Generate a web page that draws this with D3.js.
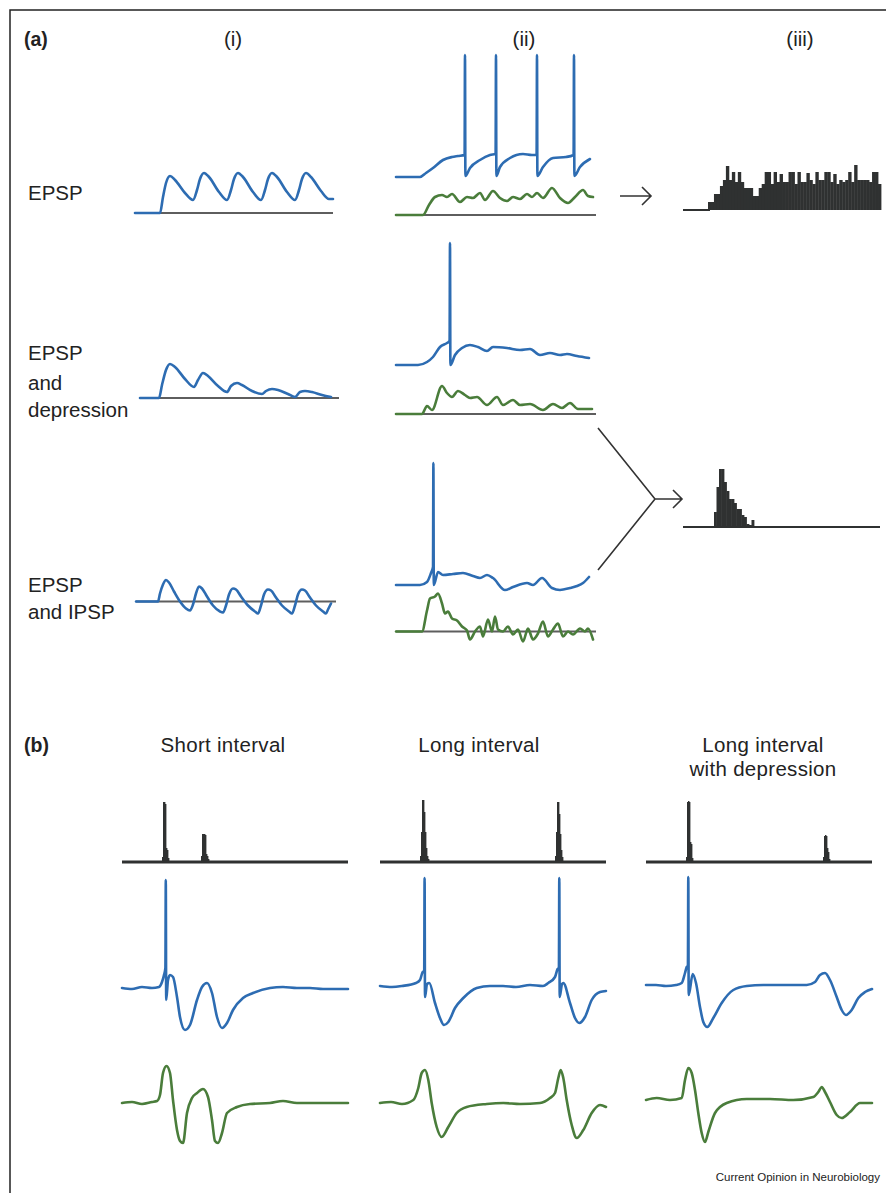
<!DOCTYPE html>
<html>
<head>
<meta charset="utf-8">
<script src="https://cdn.jsdelivr.net/npm/d3@7"></script>
<style>
  body { margin: 0; background: #fff; }
  text { font-family: "Liberation Sans", Arial, sans-serif; fill: #222; }
</style>
</head>
<body>
<div id="fig"></div>
<script>
// ---- traces, [time, amplitude] (amplitude up = positive) ----
// (a)(i) summed PSPs
const epspSum = [[0,0],[25,0],[28,16],[31,30],[35,37],[40,33],[50,20],[58,13],[62,23],[65,34],[69,40],[74,36],[84,21],[92,13],[96,23],[99,34],[103,40],[108,36],[118,21],[126,13],[130,23],[133,34],[137,40],[142,36],[152,21],[160,13],[164,23],[167,34],[171,40],[176,36],[186,22],[194,14],[198,14]];
const depressionSum = [[0,0],[19,0],[22,13],[26,28],[30,34],[35,31],[45,19],[54,11],[58,18],[63,25],[68,22],[78,12],[87,6],[91,12],[97,15],[102,13],[112,7],[122,4],[126,7],[132,9],[138,8],[148,4],[155,1],[160,6],[165,7],[172,6],[182,3],[191,1]];
const ipspSum = [[0,0],[22,0],[24,8],[27,17],[30,21.5],[33,19],[38,10],[44,0],[50,-7],[54,-9],[57,-3],[60,8],[63,15],[66,13],[71,5],[77,-4],[84,-10],[87,-11],[90,-4],[93,7],[97,13],[100,12],[105,5],[112,-4],[119,-10],[122,-12],[125,-4],[128,7],[132,12],[135,11],[140,4],[146,-4],[153,-10],[156,-12],[159,-4],[162,7],[166,12],[169,11],[174,4],[180,-4],[187,-10],[190,-12],[192,-8],[195,-2]];

// (a)(ii) membrane potential (blue) and synaptic input (green)
const epspVm = [[0,0],[24,0],[30,4],[37,9],[47,17],[56,20],[62,21],[68.6,22],[69,122],[69.4,1],[74,9],[84,17],[94,22],[99.6,23],[100,122],[100.4,1],[104,10],[114,19],[127,23],[136,22],[140.6,22],[141,122],[141.4,1],[147,10],[157,19],[170,20],[177.6,22],[178,122],[178.4,1],[184,10],[194,18]];
const epspIn = [[0,0],[27,0],[33,10],[39,18],[46,20],[51,18],[56,21],[64,13],[71,18],[77,17],[84,22],[89,15],[97,24],[104,17],[111,14],[117,18],[124,16],[131,21],[136,18],[141,22],[147,17],[156,27],[164,17],[172,12],[179,18],[187,25],[192,19],[197,18]];
const depressionVm = [[0,0],[22,0],[31,3],[37,8],[44,18],[51,22],[53.6,24],[54,122],[54.4,0],[59,10],[66,17],[74,20],[82,18],[91,14],[97,18],[111,17],[124,15],[134,16],[144,10],[154,12],[164,10],[171,11],[181,9],[193,7]];
const depressionIn = [[0,0],[26,0],[31,8],[36,4],[46,28],[51,21],[56,17],[62,23],[69,19],[74,16],[81,17],[91,9],[101,17],[107,9],[117,14],[124,9],[134,10],[147,4],[157,10],[166,6],[174,11],[182,5],[196,5]];
const ipspVm = [[0,0],[24,0],[31,3],[35,12],[37,18],[37.4,122],[37.8,0],[42,13],[47,10],[57,11],[67,12],[77,9],[84,7],[91,10],[97,7],[109,-5],[117,-2],[131,2],[137,0],[146,7],[156,-3],[164,-5],[174,-3],[181,-1],[187,2],[193,8]];
const ipspIn = [[0,0],[26,0],[31,21],[34,33],[39,35],[42,38],[46,28],[49,18],[52,20],[56,13],[61,11],[66,5],[71,1],[74,-8],[79,0],[84,5],[87,-5],[92,12],[96,0],[99,15],[102,2],[107,0],[112,5],[117,-3],[122,2],[127,-10],[132,3],[137,-8],[142,-2],[147,10],[152,-5],[157,2],[162,8],[167,-5],[172,0],[177,-3],[184,3],[189,0],[192,3],[197,-8]];

// (a)(iii) output spike histograms (bin counts)
const epspHist = [8,8,16,16,24,30,44,30,38,28,38,28,22,22,22,14,14,22,26,38,38,26,38,28,36,28,28,38,38,26,38,28,28,37,30,26,38,30,30,38,38,28,36,26,30,28,30,38,28,45,30,30,30,30,28,38,38,26];
const mixedHist = [15,40,58,58,45,36,28,28,24,18,18,12,10,3,2,7];

// (b) spike histograms: peaks as start time + bin counts
const shortPeaks = [{t: 40, n: [5,60,60,58,14,12,4]}, {t: 79, n: [6,28,28,28,27,8,6,3]}];
const longPeaks = [{t: 40, n: [6,30,62,62,50,30,14,6,3]}, {t: 175, n: [6,30,60,60,48,28,12,5]}];
const deprPeaks = [{t: 40, n: [5,60,61,60,20,18,4]}, {t: 177, n: [5,26,27,26,14,10,3]}];

// (b) membrane potential (blue) and field/input (green)
const shortVm = [[0,0],[10,-1],[20,1],[30,0],[37,1],[40,6],[42,13],[43.4,20],[43.8,108],[44.2,-12],[46,8],[48,13],[51,11],[55,-9],[58,-29],[63,-42],[68,-37],[75,-12],[80,1],[85,5],[90,-5],[95,-29],[100,-40],[105,-35],[111,-22],[121,-10],[131,-5],[148,0],[161,1],[175,0],[188,0],[201,-1],[226,-1]];
const shortIn = [[0,0],[10,1],[20,-1],[30,1],[35,2],[38,8],[41,30],[44.5,37],[48,30],[51,3],[55,-27],[58,-38],[61,-40],[65,-10],[70,5],[75,10],[81,14],[86,6],[90,-17],[93,-38],[96,-40],[100,-30],[105,-10],[115,-4],[128,-1],[148,0],[161,2],[175,0],[201,0],[226,0]];
const longVm = [[0,0],[12,-1],[22,0],[36,3],[40,6],[42.7,14],[44.2,15],[44.6,108],[45,-11],[47,2],[49.3,3],[55,-17],[60,-32],[64,-39],[68.3,-36],[75,-22],[83.3,-12],[96.7,-2],[110,0],[123,0],[136,-1],[150,1],[163,0],[168.3,3],[175,9],[177.6,17],[178.9,18],[179.3,108],[179.7,-11],[182,2],[183.3,3],[190,-17],[195,-32],[199.3,-37],[205,-31],[211.7,-14],[220,-6],[226,-5]];
const longIn = [[0,0],[11,1],[22,-1],[33.3,3],[38.3,15],[41.7,30],[45,33],[48.3,23],[51.7,0],[56.7,-24],[61.7,-34],[68.3,-24],[76.7,-10],[86.7,-4],[106.7,-1],[123.3,0],[140,-1],[160,0],[170,5],[175,10],[178.3,25],[180.7,33],[183.3,25],[186.7,3],[191.7,-22],[196.7,-35],[203.3,-27],[211.7,-10],[220,-2],[226,-4]];
const deprVm = [[0,0],[10,0],[20,-1],[30,0],[35.7,2],[39,12],[40.7,18],[41.9,19],[42.3,108],[42.7,-10],[46.7,11],[50,2],[54,-22],[57.3,-37],[61.3,-42],[67.3,-33],[75.7,-18],[87.3,-5],[100.7,-1],[117.3,0],[140.7,0],[160.7,0],[169,3],[174,10],[179,12],[184,5],[190.7,-12],[195.7,-25],[200,-30],[205.7,-25],[212.3,-13],[219,-7],[226,-4]];
const deprIn = [[0,0],[10.7,2],[24,0],[35.7,2],[39,20],[42.3,32],[45.7,27],[49,10],[52.3,-13],[55.7,-33],[59,-42],[62.3,-32],[69,-13],[80.7,-3],[100.7,1],[124,1],[147.3,0],[167.3,3],[172.3,8],[175.7,13],[179,8],[184,-2],[190.7,-15],[195.7,-18],[204,-12],[214,-3],[226,-3]];

// ---- labels ----
const columnHeadsA = ["(i)", "(ii)", "(iii)"];
const rowLabelsA = [["EPSP"], ["EPSP", "and", "depression"], ["EPSP", "and IPSP"]];
const columnHeadsB = [["Short interval"], ["Long interval"], ["Long interval", "with depression"]];
const credit = "Current Opinion in Neurobiology";

// ---- drawing ----
const W = 886, H = 1193;
const BLUE = "#2d6cb2", GREEN = "#4a7d3b", GREY = "#5e5e5e", DARK = "#2f3131";

const svg = d3.select("#fig").append("svg").attr("width", W).attr("height", H);

// frame
svg.append("path").attr("d", "M10,1193 V10 H886").attr("fill", "none").attr("stroke", "#222").attr("stroke-width", 1.5);

function scales(left, width, tMax, base) {
  return {
    x: d3.scaleLinear().domain([0, tMax]).range([left, left + width]),
    y: d3.scaleLinear().domain([0, 100]).range([base, base - 100])
  };
}

function baseline(s, t0, t1, color, w) {
  svg.append("line")
    .attr("x1", s.x(t0)).attr("x2", s.x(t1))
    .attr("y1", s.y(0)).attr("y2", s.y(0))
    .attr("stroke", color).attr("stroke-width", w);
}

function trace(s, data, color) {
  const line = d3.line().x(d => s.x(d[0])).y(d => s.y(d[1])).curve(d3.curveMonotoneX);
  svg.append("path").datum(data).attr("d", line)
    .attr("fill", "none").attr("stroke", color).attr("stroke-width", 2.6)
    .attr("stroke-linejoin", "round").attr("stroke-linecap", "round");
}

function hist(s, counts, t0) {
  svg.append("g").selectAll("rect").data(counts).enter().append("rect")
    .attr("x", (d, i) => s.x(t0 + i))
    .attr("width", (d, i) => s.x(t0 + i + 1) - s.x(t0 + i) + 0.4)
    .attr("y", d => s.y(d))
    .attr("height", d => s.y(0) - s.y(d))
    .attr("fill", DARK);
}

// (a)(i)
const aI = [
  {data: epspSum, s: scales(135, 198, 198, 213)},
  {data: depressionSum, s: scales(140, 199, 199, 398)},
  {data: ipspSum, s: scales(136, 200, 200, 601.5)}
];
aI.forEach(p => {
  baseline(p.s, 0, p.s.x.domain()[1], GREY, 2);
  trace(p.s, p.data, BLUE);
});

// (a)(ii)
const aII = [
  {vm: epspVm, inp: epspIn, vmBase: 177, inBase: 215},
  {vm: depressionVm, inp: depressionIn, vmBase: 365, inBase: 414},
  {vm: ipspVm, inp: ipspIn, vmBase: 585, inBase: 631.5}
];
aII.forEach(p => {
  const sIn = scales(396, 200, 200, p.inBase);
  baseline(sIn, 0, 200, GREY, 2);
  trace(sIn, p.inp, GREEN);
  trace(scales(396, 200, 200, p.vmBase), p.vm, BLUE);
});

// (a)(iii) histograms
const h1 = scales(708, 173, epspHist.length, 210);
svg.append("line").attr("x1", 683).attr("x2", 710).attr("y1", 210).attr("y2", 210).attr("stroke", DARK).attr("stroke-width", 2);
hist(h1, epspHist, 0);
const h2 = scales(714, 40, mixedHist.length, 527);
svg.append("line").attr("x1", 683).attr("x2", 880).attr("y1", 527).attr("y2", 527).attr("stroke", DARK).attr("stroke-width", 2);
hist(h2, mixedHist, 0);

// arrows
const arrowStyle = sel => sel.attr("fill", "none").attr("stroke", "#333").attr("stroke-width", 1.6);
svg.append("path").attr("d", "M620,196 H651 M642,187 L651,196 L642,205").call(arrowStyle);
svg.append("path").attr("d", "M598,428 L655,499 L598,570 M655,499 H682 M673,490 L682,499 L673,508").call(arrowStyle);

// (b)
const bCols = [
  {left: 122, peaks: shortPeaks, vm: shortVm, inp: shortIn, vmBase: 988, inBase: 1103},
  {left: 380, peaks: longPeaks, vm: longVm, inp: longIn, vmBase: 986, inBase: 1103},
  {left: 646, peaks: deprPeaks, vm: deprVm, inp: deprIn, vmBase: 985, inBase: 1100}
];
bCols.forEach(c => {
  const sh = scales(c.left, 226, 226, 862);
  c.peaks.forEach(pk => hist(sh, pk.n, pk.t));
  baseline(sh, 0, 226, DARK, 3);
  trace(scales(c.left, 226, 226, c.vmBase), c.vm, BLUE);
  trace(scales(c.left, 226, 226, c.inBase), c.inp, GREEN);
});

// ---- text ----
const fs = 20.5;
svg.append("text").attr("x", 24).attr("y", 46).attr("font-size", 19.5).attr("font-weight", "bold").text("(a)");
svg.append("text").attr("x", 24).attr("y", 752).attr("font-size", 19.5).attr("font-weight", "bold").text("(b)");

const headAx = [233, 524, 800];
columnHeadsA.forEach((t, i) => {
  svg.append("text").attr("x", headAx[i]).attr("y", 46).attr("text-anchor", "middle").attr("font-size", fs).text(t);
});

const rowLabelY = [[200], [360, 390, 417], [592, 619]];
rowLabelsA.forEach((lines, i) => {
  lines.forEach((t, j) => {
    svg.append("text").attr("x", 28).attr("y", rowLabelY[i][j]).attr("font-size", fs).text(t);
  });
});

const headBx = [223, 479, 763];
columnHeadsB.forEach((lines, i) => {
  lines.forEach((t, j) => {
    svg.append("text").attr("x", headBx[i]).attr("y", 752 + j * 24).attr("text-anchor", "middle")
      .attr("font-size", fs).attr("letter-spacing", 0.3).text(t);
  });
});

svg.append("text").attr("x", 880).attr("y", 1181).attr("text-anchor", "end").attr("font-size", 11.5).attr("fill", "#333").text(credit);
</script>
</body>
</html>
